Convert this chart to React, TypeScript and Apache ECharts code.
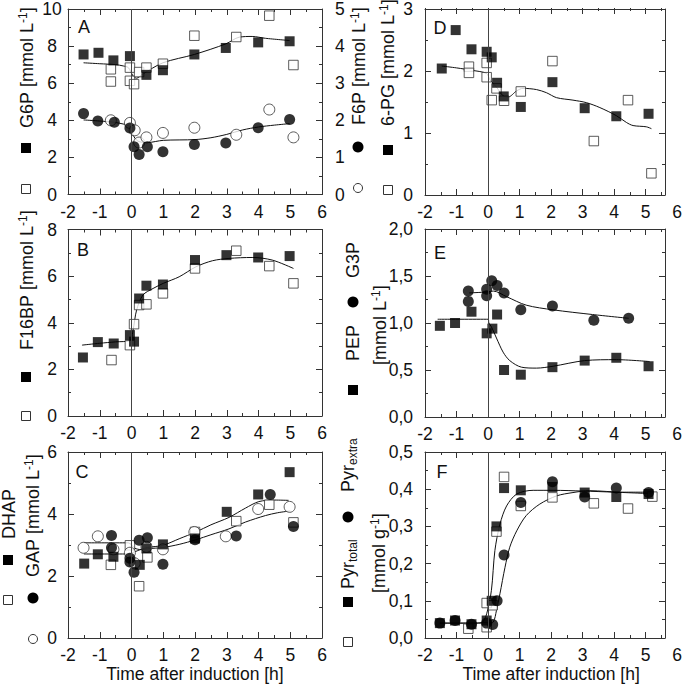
import React, { useEffect, useRef } from 'react';
import * as echarts from 'echarts';

const FONT = '"Liberation Sans", Arial, Helvetica, sans-serif';
const INK = '#111';
const FRAME = '#333';

// ---------- Panel A : G6P (left axis) and F6P (right axis)
const g6pFilled = [[-1.51, 7.55], [-1.04, 7.64], [-0.57, 7.23], [-0.05, 7.46], [0.47, 6.45], [0.99, 6.7], [1.98, 7.55], [2.97, 7.9], [3.99, 8.2], [4.98, 8.26]];
const g6pOpen = [[-0.65, 6.75], [-0.65, 6.09], [-0.05, 6.84], [-0.05, 6.13], [0.08, 5.95], [0.24, 6.6], [0.47, 6.84], [0.99, 7.05], [1.98, 8.56], [3.3, 8.49], [4.34, 9.64], [5.1, 6.98]];
const g6pFit = [[-1.51, 7.1], [-1.0, 7.05], [-0.5, 7.0], [-0.26, 6.93], [-0.1, 6.84], [0.05, 6.39], [0.16, 6.27], [0.36, 6.5], [0.99, 7.1], [1.98, 7.55], [2.97, 8.12], [3.39, 8.48], [3.8, 8.52], [4.22, 8.42], [4.98, 8.3]];
const f6pFilled = [[-1.51, 2.18], [-1.06, 1.98], [-0.54, 1.95], [-0.05, 1.79], [0.08, 1.29], [0.24, 1.08], [0.5, 1.29], [0.99, 1.15], [1.98, 1.35], [2.97, 1.39], [3.99, 1.8], [4.98, 2.02]];
const f6pOpen = [[-0.65, 2.0], [-0.05, 1.93], [0.1, 1.73], [0.24, 1.4], [0.47, 1.54], [0.99, 1.66], [1.98, 1.8], [3.3, 1.61], [4.34, 2.29], [5.1, 1.54]];
const f6pFit = [[-1.51, 2.01], [-1.0, 1.98], [-0.5, 1.94], [-0.05, 1.83], [0.05, 1.6], [0.2, 1.44], [0.5, 1.4], [1.0, 1.46], [2.0, 1.48], [2.5, 1.53], [3.0, 1.62], [3.5, 1.74], [4.0, 1.82], [4.5, 1.87], [4.98, 1.91]];

// ---------- Panel B : F16BP
const f16bpFilled = [[-1.53, 2.51], [-1.06, 3.17], [-0.56, 3.11], [-0.05, 3.47], [0.08, 3.19], [0.24, 5.04], [0.47, 5.59], [0.99, 5.64], [2.0, 6.69], [2.99, 6.9], [3.99, 6.8], [4.98, 6.86]];
const f16bpOpen = [[-0.63, 2.4], [-0.05, 3.04], [0.08, 3.94], [0.24, 4.76], [0.47, 4.79], [0.99, 5.26], [2.0, 6.33], [3.3, 7.09], [4.34, 6.43], [5.1, 5.69]];
const f16bpFit = [[-1.56, 3.04], [-1.0, 3.12], [-0.5, 3.18], [-0.05, 3.23], [0.05, 3.69], [0.16, 4.54], [0.36, 5.19], [0.68, 5.47], [1.0, 5.69], [1.5, 5.97], [2.03, 6.4], [2.55, 6.66], [3.07, 6.76], [3.8, 6.8], [4.43, 6.69], [5.1, 6.33]];

// ---------- Panel C : DHAP and GAP
const dhapFilled = [[-1.49, 2.4], [-1.06, 2.7], [-0.57, 2.62], [0.26, 2.36], [0.47, 2.89], [0.99, 3.02], [2.0, 3.21], [3.0, 4.07], [3.99, 4.63], [4.98, 5.35]];
const dhapOpen = [[-0.65, 2.36], [-0.05, 2.99], [0.24, 1.67], [0.5, 2.6], [2.0, 3.42], [3.3, 3.77], [4.34, 4.3], [5.1, 3.73]];
const gapFilled = [[-0.63, 3.31], [-0.63, 2.91], [-0.05, 2.57], [-0.05, 2.45], [0.08, 2.12], [0.24, 3.15], [0.5, 3.23], [0.99, 2.38], [2.0, 3.17], [3.3, 3.29], [4.37, 4.63], [5.1, 3.6]];
const gapOpen = [[-1.51, 2.91], [-1.06, 3.28], [-0.57, 2.86], [-0.05, 2.75], [0.1, 2.41], [0.47, 2.94], [0.99, 2.86], [1.98, 3.42], [2.97, 3.28], [3.99, 4.16], [4.98, 4.23]];
const dhapFit = [[-1.5, 2.71], [-0.1, 2.71], [0.1, 2.78], [0.3, 2.86], [0.5, 2.92], [0.99, 2.99], [1.5, 3.2], [2.03, 3.42], [2.5, 3.65], [3.07, 3.89], [3.59, 4.19], [4.01, 4.4], [4.5, 4.45], [4.95, 4.44]];
const gapFit = [[-1.5, 3.07], [-0.1, 3.07], [0.1, 2.9], [0.3, 2.85], [0.5, 2.88], [0.99, 2.92], [1.5, 3.02], [2.03, 3.17], [2.5, 3.33], [3.07, 3.52], [3.59, 3.74], [4.22, 3.95], [4.6, 4.04], [5.0, 4.1]];

// ---------- Panel D : 6-PG
const pg6Filled = [[-1.47, 2.04], [-1.03, 2.66], [-0.53, 2.35], [-0.05, 2.31], [0.11, 2.22], [0.28, 1.81], [0.49, 1.59], [1.03, 1.42], [2.03, 1.82], [3.05, 1.4], [4.05, 1.27], [5.07, 1.31]];
const pg6Open = [[-0.61, 2.07], [-0.61, 1.97], [-0.05, 2.13], [-0.05, 1.9], [0.11, 1.53], [0.26, 1.72], [0.5, 1.52], [1.03, 1.67], [2.03, 2.16], [3.34, 0.87], [4.42, 1.53], [5.16, 0.35]];
const pg6Fit = [[-1.47, 2.08], [-1.0, 2.05], [-0.5, 2.01], [-0.05, 1.96], [0.05, 1.86], [0.26, 1.74], [0.47, 1.6], [0.63, 1.58], [0.9, 1.68], [1.1, 1.72], [1.53, 1.7], [1.84, 1.65], [2.16, 1.57], [2.68, 1.53], [3.1, 1.49], [3.53, 1.41], [4.05, 1.28], [4.37, 1.17], [4.58, 1.12], [5.0, 1.1], [5.16, 1.07]];

// ---------- Panel E : G3P and PEP
const g3pFilled = [[-0.63, 1.34], [-0.63, 1.23], [-0.05, 1.36], [-0.05, 1.29], [0.11, 1.45], [0.28, 1.4], [0.5, 1.32], [1.03, 1.14], [2.03, 1.18], [3.34, 1.03], [4.44, 1.05]];
const pepFilled = [[-1.53, 0.97], [-1.05, 1.0], [-0.53, 1.12], [-0.05, 0.89], [0.13, 0.94], [0.28, 1.09], [0.5, 0.5], [1.03, 0.45], [2.03, 0.53], [3.05, 0.6], [4.05, 0.63], [5.07, 0.54]];
const g3pFit = [[-0.6, 1.32], [-0.05, 1.33], [0.16, 1.34], [0.58, 1.28], [1.2, 1.19], [2.05, 1.14], [3.3, 1.09], [4.44, 1.05]];
const pepFit = [[-1.6, 1.04], [0.0, 1.04], [0.02, 1.0], [0.1, 0.96], [0.26, 0.84], [0.47, 0.69], [0.68, 0.6], [1.05, 0.53], [1.53, 0.52], [2.05, 0.54], [3.05, 0.6], [4.05, 0.61], [5.1, 0.59]];

// ---------- Panel F : Pyr
const pyrExtraFilled = [[-1.53, 0.04], [-1.05, 0.047], [-0.53, 0.037], [-0.05, 0.04], [0.14, 0.036], [0.28, 0.1], [0.5, 0.223], [1.03, 0.364], [2.03, 0.42], [3.05, 0.379], [4.05, 0.403], [5.07, 0.391]];
const pyrTotalFilled = [[-1.53, 0.04], [-1.05, 0.047], [-0.53, 0.037], [-0.05, 0.047], [0.11, 0.1], [0.26, 0.3], [0.5, 0.403], [1.03, 0.397], [2.03, 0.406], [3.05, 0.391], [4.05, 0.379], [5.07, 0.387]];
const pyrTotalOpen = [[-0.63, 0.025], [-0.05, 0.029], [-0.05, 0.094], [0.14, 0.088], [0.26, 0.286], [0.5, 0.433], [1.03, 0.355], [2.03, 0.378], [3.34, 0.362], [4.42, 0.348], [5.19, 0.38]];
const pyrTotalFit = [[-1.53, 0.04], [-0.5, 0.04], [-0.2, 0.042], [-0.05, 0.065], [0.1, 0.128], [0.21, 0.235], [0.37, 0.306], [0.58, 0.355], [0.9, 0.387], [1.42, 0.397], [2.05, 0.397], [3.0, 0.395], [4.0, 0.392], [5.16, 0.388]];
const pyrExtraFit = [[-1.53, 0.04], [0.0, 0.04], [0.16, 0.043], [0.26, 0.074], [0.37, 0.119], [0.53, 0.19], [0.68, 0.244], [0.9, 0.288], [1.2, 0.329], [1.63, 0.36], [2.16, 0.382], [2.68, 0.391], [3.2, 0.396], [4.26, 0.392], [5.16, 0.392]];

// ---------- tick values
const X_LABEL_TICKS = [-2, -1, 0, 1, 2, 3, 4, 5];
const RIGHT_XMAX = 5.59;

const comma = (v: number) => v.toFixed(1).replace('.', ',');

const leftGrids = [
  { left: 68, top: 8, width: 254, height: 186.5 },
  { left: 68, top: 229.5, width: 254, height: 186.5 },
  { left: 68, top: 452, width: 254, height: 187.5 },
];
const rightGrids = [
  { left: 425, top: 8, width: 240, height: 187 },
  { left: 425, top: 229, width: 240, height: 188 },
  { left: 425, top: 452, width: 240, height: 186 },
];
const labelGrids = rightGrids.map((g) => ({ ...g, width: 253 }));

const lineStyle = { color: FRAME, width: 1 };
const axisLine = { show: true, onZero: false, lineStyle };
const axisTick = { show: true, inside: true, length: 6, lineStyle };
const minorTick = { show: true, splitNumber: 2, length: 3, lineStyle };
const labelText = { color: INK, fontSize: 17.5, fontFamily: FONT };

function buildOption() {
  const grid = [...leftGrids, ...rightGrids, ...labelGrids];
  const xAxis: any[] = [];
  const yAxis: any[] = [];

  for (let g = 0; g < 6; g++) {
    const isLeft = g < 3;
    for (const pos of ['bottom', 'top']) {
      if (isLeft) {
        xAxis.push({
          type: 'value', gridIndex: g, position: pos, min: -2, max: 6, interval: 1,
          axisLine, axisTick, minorTick, splitLine: { show: false },
          axisLabel: { ...labelText, show: pos === 'bottom', margin: 8 },
          name: g === 2 && pos === 'bottom' ? 'Time after induction [h]' : '',
          nameLocation: 'middle', nameGap: 27,
          nameTextStyle: { ...labelText },
        });
      } else {
        xAxis.push({
          type: 'value', gridIndex: g, position: pos, min: -2, max: RIGHT_XMAX,
          axisLine, axisTick: { show: false }, minorTick: { show: false },
          splitLine: { show: false }, axisLabel: { show: false },
        });
      }
    }
  }
  for (let k = 0; k < 3; k++) {
    for (const pos of ['bottom', 'top']) {
      xAxis.push({
        type: 'value', gridIndex: 6 + k, position: pos, min: -2, max: 6, interval: 1,
        axisLine: { show: false, onZero: false },
        axisTick: { ...axisTick, customValues: X_LABEL_TICKS },
        minorTick, splitLine: { show: false },
        axisLabel: { ...labelText, show: pos === 'bottom', margin: 8 },
        name: k === 2 && pos === 'bottom' ? 'Time after induction [h]' : '',
        nameLocation: 'middle', nameGap: 27,
        nameTextStyle: { ...labelText },
      });
    }
  }

  const yDefs = [
    { min: 0, max: 10, interval: 2, rmax: 5, rinterval: 1, rlabels: true },
    { min: 0, max: 8, interval: 2 },
    { min: 0, max: 6, interval: 2 },
    { min: 0, max: 3, interval: 1 },
    { min: 0, max: 2, interval: 0.5, fmt: comma },
    { min: 0, max: 0.5, interval: 0.1, fmt: comma },
  ];
  yDefs.forEach((d: any, g) => {
    const isLeft = g < 3;
    yAxis.push({
      type: 'value', gridIndex: g, position: 'left', min: d.min, max: d.max, interval: d.interval,
      axisLine, axisTick, minorTick, splitLine: { show: false },
      axisLabel: {
        ...labelText,
        align: isLeft ? 'center' : 'right',
        margin: isLeft ? 16 : 12,
        formatter: d.fmt ? d.fmt : (v: number) => String(v),
      },
    });
    yAxis.push({
      type: 'value', gridIndex: g, position: 'right', min: d.min,
      max: d.rmax !== undefined ? d.rmax : d.max,
      interval: d.rinterval !== undefined ? d.rinterval : d.interval,
      axisLine, axisTick, minorTick, splitLine: { show: false },
      axisLabel: { ...labelText, show: !!d.rlabels, margin: 13 },
    });
  });
  for (let k = 0; k < 3; k++) {
    yAxis.push({ type: 'value', gridIndex: 6 + k, min: 0, max: 1, show: false });
  }

  const series: any[] = [];
  const vline = {
    silent: true, symbol: ['none', 'none'], label: { show: false },
    lineStyle: { color: '#444', width: 1, type: 'solid' }, data: [{ xAxis: 0 }],
  };
  const fit = (data: number[][], g: number, right = false, withLine = false) => {
    series.push({
      type: 'line', data, xAxisIndex: 2 * g, yAxisIndex: 2 * g + (right ? 1 : 0),
      showSymbol: false, symbol: 'none', smooth: 0.3, z: 2,
      lineStyle: { color: '#111', width: 1 }, animation: false,
      markLine: withLine ? vline : undefined,
    });
  };
  const pts = (data: number[][], g: number, kind: string, right = false) => {
    const filled = kind === 'fs' || kind === 'fc';
    const square = kind === 'fs' || kind === 'os';
    series.push({
      type: 'scatter', data, xAxisIndex: 2 * g, yAxisIndex: 2 * g + (right ? 1 : 0),
      symbol: square ? 'rect' : 'circle',
      symbolSize: square ? (filled ? 10 : 9.5) : 11,
      z: filled ? 4 : 3,
      itemStyle: filled
        ? { color: '#000' }
        : { color: '#fff', borderColor: '#333', borderWidth: 1 },
    });
  };

  // A
  fit(g6pFit, 0, false, true); fit(f6pFit, 0, true);
  pts(g6pOpen, 0, 'os'); pts(g6pFilled, 0, 'fs');
  pts(f6pOpen, 0, 'oc', true); pts(f6pFilled, 0, 'fc', true);
  // B
  fit(f16bpFit, 1, false, true);
  pts(f16bpOpen, 1, 'os'); pts(f16bpFilled, 1, 'fs');
  // C
  fit(dhapFit, 2, false, true); fit(gapFit, 2);
  pts(dhapOpen, 2, 'os'); pts(gapOpen, 2, 'oc');
  pts(dhapFilled, 2, 'fs'); pts(gapFilled, 2, 'fc');
  // D
  fit(pg6Fit, 3, false, true);
  pts(pg6Open, 3, 'os'); pts(pg6Filled, 3, 'fs');
  // E
  fit(g3pFit, 4, false, true); fit(pepFit, 4);
  pts(g3pFilled, 4, 'fc'); pts(pepFilled, 4, 'fs');
  // F
  fit(pyrTotalFit, 5, false, true); fit(pyrExtraFit, 5);
  pts(pyrTotalOpen, 5, 'os'); pts(pyrTotalFilled, 5, 'fs'); pts(pyrExtraFilled, 5, 'fc');

  const rich = {
    n: { fontSize: 18, fontFamily: FONT, lineHeight: 21, fill: INK, color: INK },
    s: { fontSize: 12, fontFamily: FONT, lineHeight: 12, verticalAlign: 'top', fill: INK, color: INK },
    b: { fontSize: 12, fontFamily: FONT, lineHeight: 12, verticalAlign: 'bottom', fill: INK, color: INK },
  };
  const vtext = (x: number, bottom: number, text: string) => ({
    type: 'text', x, y: bottom, rotation: Math.PI / 2,
    style: { text, rich, align: 'left', verticalAlign: 'middle', textAlign: 'left', textVerticalAlign: 'middle', fill: INK },
  });
  const letter = (x: number, y: number, t: string) => ({
    type: 'text', x, y,
    style: { text: t, font: `18px ${FONT}`, fill: INK, align: 'center', verticalAlign: 'middle', textAlign: 'center', textVerticalAlign: 'middle' },
  });
  const sq = (cx: number, cy: number, filled: boolean) => filled
    ? { type: 'rect', shape: { x: cx - 5, y: cy - 5, width: 10, height: 10 }, style: { fill: '#000' } }
    : { type: 'rect', shape: { x: cx - 4.5, y: cy - 4.5, width: 9, height: 9 }, style: { fill: '#fff', stroke: '#333', lineWidth: 1 } };
  const ci = (cx: number, cy: number, filled: boolean) => filled
    ? { type: 'circle', shape: { cx, cy, r: 5.5 }, style: { fill: '#000' } }
    : { type: 'circle', shape: { cx, cy, r: 4.5 }, style: { fill: '#fff', stroke: '#333', lineWidth: 1 } };

  const unitL = '{n|[mmol L}{s|-1}{n|]}';
  const graphic = [
    letter(84, 27, 'A'), letter(83, 250, 'B'), letter(82, 472, 'C'),
    letter(440, 28, 'D'), letter(440, 253, 'E'), letter(442, 472, 'F'),
    vtext(27, 128, '{n|G6P }' + unitL),
    sq(26, 148, true), sq(26, 189, false),
    vtext(359, 125, '{n|F6P }' + unitL),
    ci(358, 147, true), ci(358, 188, false),
    vtext(388, 126, '{n|6-PG }' + unitL),
    sq(388, 150, true), sq(388, 190, false),
    vtext(27, 350, '{n|F16BP }' + unitL),
    sq(26, 377, true), sq(26, 416, false),
    vtext(353, 278, '{n|G3P}'),
    ci(353, 302, true),
    vtext(353, 361, '{n|PEP}'),
    sq(353, 390, true),
    vtext(380, 365, unitL),
    vtext(9, 539, '{n|DHAP}'),
    sq(8, 560, true), sq(8, 600, false),
    vtext(33, 577, '{n|GAP }' + unitL),
    ci(33, 598, true), ci(33, 639, false),
    vtext(348, 492, '{n|Pyr}{b|extra}'),
    ci(348, 517, true),
    vtext(348, 589, '{n|Pyr}{b|total}'),
    sq(348, 602, true), sq(348, 642, false),
    vtext(379, 593, '{n|[mmol g}{s|-1}{n|]}'),
  ];

  return {
    animation: false,
    backgroundColor: '#fff',
    textStyle: { fontFamily: FONT },
    grid: grid.map((g) => ({ ...g, containLabel: false })),
    xAxis, yAxis, series, graphic,
  };
}

export default function App() {
  const ref = useRef<HTMLDivElement>(null);
  useEffect(() => {
    if (!ref.current) return;
    const chart = echarts.init(ref.current, null, { renderer: 'svg' });
    chart.setOption(buildOption() as any);
    return () => chart.dispose();
  }, []);
  return (
    <div
      ref={ref}
      style={{ position: 'fixed', left: 0, top: 0, width: 685, height: 684, background: '#fff' }}
    />
  );
}
